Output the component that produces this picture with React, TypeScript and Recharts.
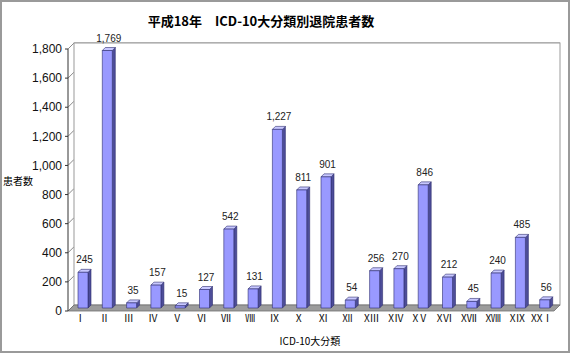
import { BarChart, Bar, XAxis, YAxis, CartesianGrid, ReferenceArea, LabelList } from "recharts";

const categories = ["Ⅰ", "Ⅱ", "Ⅲ", "Ⅳ", "Ⅴ", "Ⅵ", "Ⅶ", "Ⅷ", "Ⅸ", "Ⅹ", "Ⅺ", "Ⅻ", "XⅢ", "XⅣ", "XⅤ", "XⅥ", "XⅦ", "XⅧ", "XⅨ", "XXⅠ"];
const patients = [245, 1769, 35, 157, 15, 127, 542, 131, 1227, 811, 901, 54, 256, 270, 846, 212, 45, 240, 485, 56];
const yTicks = [0, 200, 400, 600, 800, 1000, 1200, 1400, 1600, 1800];

const data = categories.map((name, i) => ({ name, value: patients[i] }));

const D = 6; // wall depth
const S = 3; // bar offset into the depth
const BD = 3; // bar depth

const font = "'Liberation Sans', 'Noto Sans CJK JP', sans-serif";
const jpFont = "'Noto Sans CJK JP', sans-serif";

function Bar3D(props: any) {
  const { x, y, width, height } = props;
  const fx = x + S;
  const fy = y - S;
  return (
    <g stroke="#2d2d6e" strokeWidth={0.6} strokeLinejoin="round">
      <polygon
        points={`${fx + width},${fy} ${fx + width + BD},${fy - BD} ${fx + width + BD},${fy + height - BD} ${fx + width},${fy + height}`}
        fill="#4d4d99"
      />
      <polygon
        points={`${fx},${fy} ${fx + BD},${fy - BD} ${fx + width + BD},${fy - BD} ${fx + width},${fy}`}
        fill="#c8c8ff"
      />
      <rect x={fx} y={fy} width={width} height={height} fill="#9999ff" />
    </g>
  );
}

function Walls(props: any) {
  const { x, y, width, height } = props;
  const b = y + height;
  return (
    <g>
      <rect x={x + D} y={y - D} width={width} height={height} fill="#fff" stroke="#9a9a9a" strokeWidth={1} />
      <polygon
        points={`${x},${b} ${x + D},${b - D} ${x + width + D},${b - D} ${x + width},${b}`}
        fill="#9c9c9c"
        stroke="#6e6e6e"
        strokeWidth={0.8}
      />
    </g>
  );
}

function GridLine(props: any) {
  const { x1, y1, x2, index } = props;
  return (
    <path
      key={`g-${index}-${y1}`}
      d={`M${x1},${y1} L${x1 + D},${y1 - D} L${x2 + D},${y1 - D}`}
      fill="none"
      stroke="#8a8a8a"
      strokeWidth={1}
    />
  );
}

function ValueLabel(props: any) {
  const { x, y, width, value } = props;
  return (
    <text
      x={x + S + (width + BD) / 2}
      y={y - S - 9}
      textAnchor="middle"
      fontSize={10}
      fontFamily={font}
      fill="#222"
    >
      {Number(value).toLocaleString("en-US")}
    </text>
  );
}

export default function App() {
  return (
    <div style={{ position: "absolute", left: 0, top: 0, width: 570, height: 353, background: "#fff" }}>
      <BarChart
        width={570}
        height={353}
        data={data}
        margin={{ top: 49, right: 16, bottom: 0, left: 0 }}
        barSize={10}
      >
        <ReferenceArea y1={0} y2={1800} shape={<Walls />} fill="none" stroke="none" />
        <CartesianGrid vertical={false} horizontal={(p: any) => <GridLine {...p} />} />
        <XAxis
          dataKey="name"
          axisLine={false}
          tickLine={false}
          tickSize={0}
          tickMargin={4}
          height={42}
          interval={0}
          tick={{ fontSize: 10, fontFamily: jpFont, fill: "#111" }}
        />
        <YAxis
          width={68}
          domain={[0, 1800]}
          ticks={yTicks}
          interval={0}
          axisLine={{ stroke: "#333" }}
          tickLine={{ stroke: "#333" }}
          tickSize={3}
          tickMargin={3}
          tickFormatter={(v: number) => v.toLocaleString("en-US")}
          tick={{ fontSize: 12, fontFamily: font, fill: "#111" }}
        />
        <Bar dataKey="value" shape={<Bar3D />} isAnimationActive={false}>
          <LabelList dataKey="value" content={<ValueLabel />} />
        </Bar>
      </BarChart>
      <div
        style={{
          position: "absolute",
          left: 0,
          top: 11,
          width: 522,
          textAlign: "center",
          fontFamily: jpFont,
          fontWeight: 700,
          fontSize: 13,
          color: "#000",
          whiteSpace: "pre",
        }}
      >
        {"平成18年　ICD-10大分類別退院患者数"}
      </div>
      <div
        style={{ position: "absolute", left: 3, top: 173, fontFamily: jpFont, fontSize: 10, color: "#000" }}
      >
        患者数
      </div>
      <div
        style={{
          position: "absolute",
          left: 250,
          width: 120,
          top: 333,
          textAlign: "center",
          fontFamily: jpFont,
          fontSize: 10,
          color: "#000",
        }}
      >
        ICD-10大分類
      </div>
      <div
        style={{
          position: "absolute",
          left: 0,
          top: 0,
          width: 570,
          height: 353,
          boxSizing: "border-box",
          border: "2px solid #9a9a9a",
          pointerEvents: "none",
        }}
      />
    </div>
  );
}
